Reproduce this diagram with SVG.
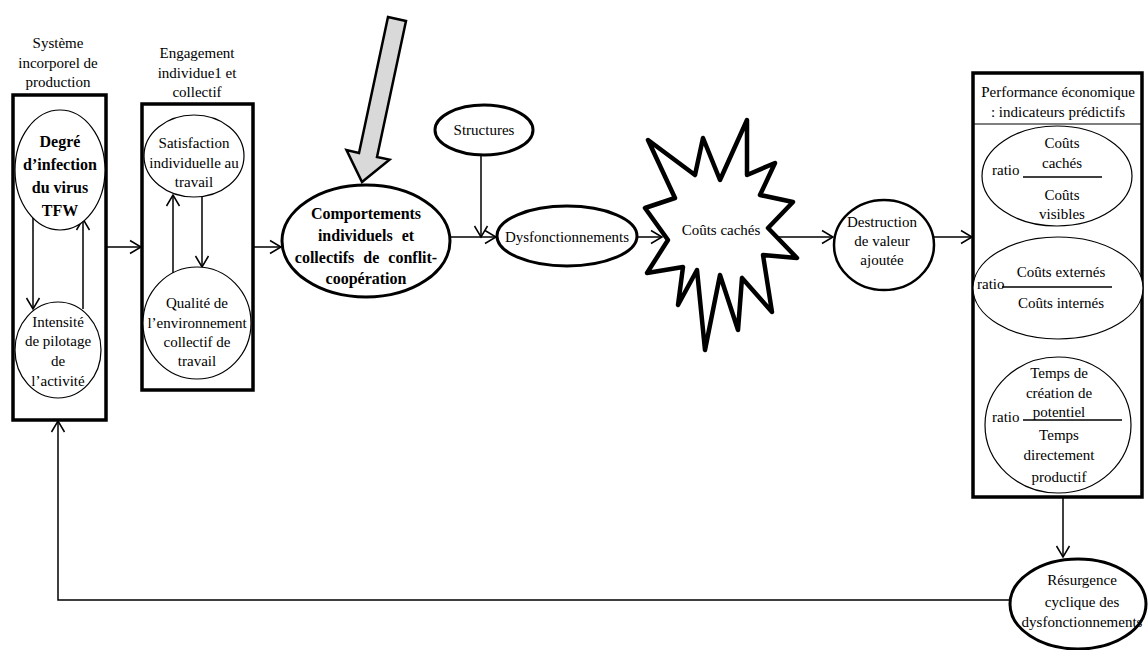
<svg xmlns="http://www.w3.org/2000/svg" width="1148" height="650" viewBox="0 0 1148 650">
<defs>
<style>
.t{font-family:"Liberation Serif","Times New Roman",serif;font-size:15px;text-anchor:middle;fill:#000}
.s{text-anchor:start}
.b{font-weight:bold;font-size:16px}
.thin{fill:#fff;stroke:#000;stroke-width:1.2}
.thick{fill:#fff;stroke:#000;stroke-width:3}
.box{fill:none;stroke:#000;stroke-width:3.5}
.conn{stroke:#000;stroke-width:1.5;fill:none}
.frac{stroke:#000;stroke-width:1.3}
</style>
<marker id="ah" viewBox="-13 -8 15 16" refX="0" refY="0" markerWidth="15" markerHeight="16" markerUnits="userSpaceOnUse" orient="auto">
<path d="M-11,-6.5 L0,0 L-11,6.5" fill="none" stroke="#000" stroke-width="1.5"/>
</marker>
</defs>
<rect width="1148" height="650" fill="#fff"/>

<g id="connectors">
<line class="conn" x1="106" y1="247" x2="141" y2="247" marker-end="url(#ah)"/>
<line class="conn" x1="253" y1="247" x2="281" y2="247" marker-end="url(#ah)"/>
<line class="conn" x1="450" y1="237" x2="496" y2="237" marker-end="url(#ah)"/>
<line class="conn" x1="481" y1="155" x2="481" y2="237" marker-end="url(#ah)"/>
<line class="conn" x1="637" y1="237" x2="662" y2="237" marker-end="url(#ah)"/>
<line class="conn" x1="776" y1="237" x2="833" y2="237" marker-end="url(#ah)"/>
<line class="conn" x1="934" y1="237" x2="972" y2="237" marker-end="url(#ah)"/>
<line class="conn" x1="1063" y1="498" x2="1063" y2="557" marker-end="url(#ah)"/>
<polyline class="conn" points="1011,600 58,600 58,421" marker-end="url(#ah)"/>
<line class="conn" x1="33" y1="218" x2="33" y2="309" marker-end="url(#ah)"/>
<line class="conn" x1="83" y1="309" x2="83" y2="219" marker-end="url(#ah)"/>
<line class="conn" x1="173" y1="273" x2="173" y2="195" marker-end="url(#ah)"/>
<line class="conn" x1="202" y1="196" x2="202" y2="267" marker-end="url(#ah)"/>
</g>

<g id="systeme">
<text class="t" x="58" y="48">Système</text>
<text class="t" x="58" y="68">incorporel de</text>
<text class="t" x="58" y="87">production</text>
<rect class="box" x="13" y="95" width="93" height="325"/>
</g>

<g id="degre">
<ellipse class="thin" cx="60" cy="170" rx="45" ry="60"/>
<text class="t b" x="60" y="147">Degré</text>
<text class="t b" x="60" y="170">d’infection</text>
<text class="t b" x="60" y="193">du virus</text>
<text class="t b" x="60" y="216">TFW</text>
</g>

<g id="intensite">
<ellipse class="thin" cx="58" cy="350" rx="43" ry="48"/>
<text class="t" x="58" y="327">Intensité</text>
<text class="t" x="58" y="346">de pilotage</text>
<text class="t" x="58" y="366">de</text>
<text class="t" x="58" y="386">l’activité</text>
</g>

<g id="engagement">
<text class="t" x="197" y="58">Engagement</text>
<text class="t" x="197" y="78">individue1 et</text>
<text class="t" x="197" y="97">collectif</text>
<rect class="box" x="142" y="104" width="111" height="286"/>
</g>

<g id="satisfaction">
<ellipse class="thin" cx="194" cy="156" rx="50" ry="41"/>
<text class="t" x="194" y="148">Satisfaction</text>
<text class="t" x="194" y="168">individuelle au</text>
<text class="t" x="194" y="187">travail</text>
</g>

<g id="qualite">
<ellipse class="thin" cx="197" cy="323" rx="54" ry="56"/>
<text class="t" x="197" y="308">Qualité de</text>
<text class="t" x="197" y="328">l’environnement</text>
<text class="t" x="197" y="347">collectif de</text>
<text class="t" x="197" y="366">travail</text>
</g>

<g id="fleche-grise">
<polygon points="388,17 406,21 377,157 389.5,159.6 362,182 346.5,150 359,153" fill="#d9d9d9" stroke="#000" stroke-width="2.5" stroke-linejoin="miter"/>
</g>

<g id="comportements">
<ellipse class="thick" cx="366" cy="241" rx="84" ry="56"/>
<text class="t b" x="366" y="219">Comportements</text>
<text class="t b" x="366" y="241" word-spacing="5">individuels et</text>
<text class="t b" x="366" y="263" word-spacing="5">collectifs de conflit-</text>
<text class="t b" x="366" y="284">coopération</text>
</g>

<g id="structures">
<ellipse class="thick" cx="484" cy="130" rx="49" ry="25"/>
<text class="t" x="484" y="135">Structures</text>
</g>

<g id="dysfonctionnements">
<ellipse class="thick" cx="567" cy="236" rx="70" ry="30"/>
<text class="t" x="567" y="242">Dysfonctionnements</text>
</g>

<g id="couts-caches">
<polygon points="648,140 695,175 703,138 720,180 747,120 747,175 775,163 760,195 793,202 768,228 797,258 763,255 772,312 742,278 738,330 720,275 705,350 697,270 678,305 683,267 647,273 668,240 645,208 675,198" fill="#fff" stroke="#000" stroke-width="4.5" stroke-linejoin="round"/>
<text class="t" x="721" y="235">Coûts cachés</text>
</g>

<g id="destruction">
<ellipse cx="884" cy="245" rx="50" ry="45" fill="#fff" stroke="#000" stroke-width="2.5"/>
<text class="t" x="882" y="227">Destruction</text>
<text class="t" x="882" y="246">de valeur</text>
<text class="t" x="882" y="265">ajoutée</text>
</g>

<g id="performance">
<rect x="973" y="73" width="169" height="424" fill="#fff" stroke="#000" stroke-width="3.5"/>
<line x1="973" y1="124" x2="1142" y2="124" stroke="#000" stroke-width="1.2"/>
<text class="t" x="1058" y="97">Performance économique</text>
<text class="t" x="1058" y="117">: indicateurs prédictifs</text>
</g>

<g id="ratio1">
<ellipse class="thin" cx="1057" cy="176" rx="75" ry="50"/>
<text class="t" x="1062" y="148">Coûts</text>
<text class="t" x="1062" y="168">cachés</text>
<text class="t s" x="992" y="175">ratio</text>
<line class="frac" x1="1023" y1="177" x2="1102" y2="177"/>
<text class="t" x="1062" y="200">Coûts</text>
<text class="t" x="1062" y="219">visibles</text>
</g>

<g id="ratio2">
<ellipse class="thin" cx="1058" cy="288" rx="85" ry="51"/>
<text class="t" x="1061" y="277">Coûts externés</text>
<text class="t s" x="977" y="289">ratio</text>
<line class="frac" x1="1002" y1="287" x2="1112" y2="287"/>
<text class="t" x="1061" y="308">Coûts internés</text>
</g>

<g id="ratio3">
<ellipse class="thin" cx="1058" cy="425" rx="73" ry="68"/>
<text class="t" x="1059" y="378">Temps de</text>
<text class="t" x="1059" y="398">création de</text>
<text class="t" x="1059" y="417">potentiel</text>
<text class="t s" x="992" y="422">ratio</text>
<line class="frac" x1="1023" y1="420" x2="1122" y2="420"/>
<text class="t" x="1059" y="440">Temps</text>
<text class="t" x="1059" y="460">directement</text>
<text class="t" x="1059" y="482">productif</text>
</g>

<g id="resurgence">
<ellipse class="thick" cx="1078" cy="604" rx="68" ry="45"/>
<text class="t" x="1082" y="585">Résurgence</text>
<text class="t" x="1082" y="607">cyclique des</text>
<text class="t" x="1082" y="627">dysfonctionnements</text>
</g>
</svg>
